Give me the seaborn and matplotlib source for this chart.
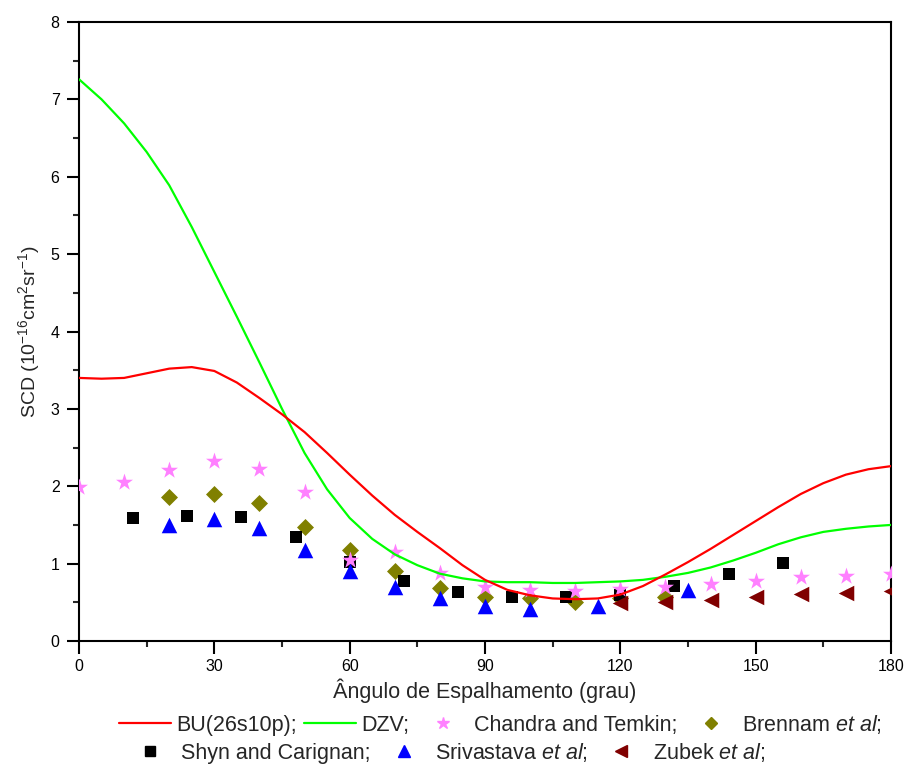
import matplotlib
matplotlib.use("Agg")
import matplotlib.pyplot as plt
from matplotlib.lines import Line2D
from matplotlib.ticker import MultipleLocator
import seaborn as sns
import pandas as pd

# ---------------- data ----------------
theory_angle = list(range(0, 181, 5))
bu_26s10p = [3.40, 3.39, 3.40, 3.46, 3.52, 3.54, 3.49, 3.34, 3.14, 2.93, 2.70, 2.43,
             2.15, 1.88, 1.63, 1.41, 1.20, 0.98, 0.79, 0.66, 0.59, 0.55, 0.54, 0.55,
             0.60, 0.71, 0.86, 1.02, 1.19, 1.37, 1.55, 1.73, 1.90, 2.04, 2.15, 2.22, 2.26]
dzv = [7.26, 7.00, 6.69, 6.32, 5.89, 5.35, 4.77, 4.19, 3.60, 3.00, 2.43, 1.96,
       1.59, 1.32, 1.12, 0.98, 0.87, 0.81, 0.77, 0.76, 0.76, 0.75, 0.75, 0.76,
       0.77, 0.79, 0.83, 0.88, 0.95, 1.04, 1.14, 1.25, 1.34, 1.41, 1.45, 1.48, 1.50]

chandra_x = [0, 10, 20, 30, 40, 50, 60, 70, 80, 90, 100, 110, 120, 130, 140, 150, 160, 170, 180]
chandra_y = [1.99, 2.05, 2.21, 2.32, 2.22, 1.92, 1.05, 1.15, 0.88, 0.70, 0.66, 0.65,
             0.67, 0.70, 0.74, 0.78, 0.83, 0.84, 0.86]
brennam_x = [20, 30, 40, 50, 60, 70, 80, 90, 100, 110, 120, 130]
brennam_y = [1.86, 1.90, 1.78, 1.47, 1.17, 0.91, 0.69, 0.57, 0.55, 0.50, 0.55, 0.57]
shyn_x = [12, 24, 36, 48, 60, 72, 84, 96, 108, 120, 132, 144, 156]
shyn_y = [1.59, 1.61, 1.60, 1.35, 1.02, 0.78, 0.63, 0.57, 0.57, 0.59, 0.71, 0.87, 1.01]
sriv_x = [20, 30, 40, 50, 60, 70, 80, 90, 100, 115, 135]
sriv_y = [1.50, 1.58, 1.46, 1.17, 0.90, 0.70, 0.55, 0.45, 0.42, 0.45, 0.66]
zubek_x = [120, 130, 140, 150, 160, 170, 180]
zubek_y = [0.49, 0.51, 0.53, 0.57, 0.61, 0.62, 0.64]

labels_row1 = ["BU(26s10p);", "DZV;", "Chandra and Temkin;", r"Brennam $\mathit{et\ al}$;"]
labels_row2 = ["Shyn and Carignan;", r"Srivastava $\mathit{et\ al}$;", r"Zubek $\mathit{et\ al}$;"]
xlabel = "Ângulo de Espalhamento (grau)"
ylabel = r"SCD (10$^{-16}$cm$^{2}$sr$^{-1}$)"

# ---------------- style ----------------
sns.set_style("white")
plt.rcParams["font.family"] = ["Liberation Sans", "DejaVu Sans"]
plt.rcParams["mathtext.fontset"] = "custom"
plt.rcParams["mathtext.rm"] = "Liberation Sans"
plt.rcParams["mathtext.it"] = "Liberation Sans:italic"
plt.rcParams["mathtext.bf"] = "Liberation Sans:bold"
plt.rcParams["lines.solid_joinstyle"] = "round"

c_bu, c_dzv = "#ff0000", "#00ff00"
c_ch, c_br, c_sh, c_sr, c_zu = "#ff80ff", "#808000", "#000000", "#0000ff", "#800000"

fig = plt.figure(figsize=(9.07, 7.65), dpi=100)
ax = fig.add_axes([79 / 907, 1 - 641 / 765, (891 - 79) / 907, (641 - 22) / 765])

th = pd.DataFrame({"angle": theory_angle, "bu": bu_26s10p, "dzv": dzv})

sns.scatterplot(x=brennam_x, y=brennam_y, marker="D", s=75, color=c_br, linewidth=0, ax=ax, zorder=3)
sns.scatterplot(x=shyn_x, y=shyn_y, marker="s", s=72, color=c_sh, linewidth=0, ax=ax, zorder=3)
sns.scatterplot(x=sriv_x, y=sriv_y, marker="^", s=125, color=c_sr, linewidth=0, ax=ax, zorder=3)
sns.scatterplot(x=zubek_x, y=zubek_y, marker="<", s=125, color=c_zu, linewidth=0, ax=ax, zorder=3)
sns.scatterplot(x=chandra_x, y=chandra_y, marker="*", s=165, color=c_ch, linewidth=0, ax=ax, zorder=4)
sns.lineplot(data=th, x="angle", y="dzv", color=c_dzv, linewidth=1.6, ax=ax, zorder=5)
sns.lineplot(data=th, x="angle", y="bu", color=c_bu, linewidth=1.6, ax=ax, zorder=6)

ax.set_xlim(0, 180)
ax.set_ylim(0, 8)
ax.xaxis.set_major_locator(MultipleLocator(30))
ax.xaxis.set_minor_locator(MultipleLocator(15))
ax.yaxis.set_major_locator(MultipleLocator(1))
ax.yaxis.set_minor_locator(MultipleLocator(0.5))
ax.tick_params(which="major", direction="out", length=9, width=1.5, labelsize=11.5,
               colors="black", bottom=True, left=True, top=False, right=False)
ax.tick_params(which="minor", direction="out", length=4.5, width=1.5,
               bottom=True, left=True, top=False, right=False)
ax.tick_params(axis="x", which="major", pad=4)
ax.tick_params(axis="y", which="major", pad=5)
for sp in ax.spines.values():
    sp.set_visible(True)
    sp.set_linewidth(1.5)
    sp.set_color("black")

ax.set_xlabel(xlabel, fontsize=15.5, labelpad=3)
ax.set_ylabel(ylabel, fontsize=14, labelpad=6)

# ---------------- legends ----------------
fs = 15.5
h1 = [Line2D([], [], color=c_bu, lw=1.6),
      Line2D([], [], color=c_dzv, lw=1.6),
      Line2D([], [], color=c_ch, marker="*", ms=9, lw=0),
      Line2D([], [], color=c_br, marker="D", ms=6, lw=0)]
h2 = [Line2D([], [], color=c_sh, marker="s", ms=6.5, lw=0),
      Line2D([], [], color=c_sr, marker="^", ms=8, lw=0),
      Line2D([], [], color=c_zu, marker="<", ms=8, lw=0)]
common = dict(frameon=False, fontsize=fs, handlelength=2.4, handletextpad=0.25,
              columnspacing=0.35, borderpad=0, borderaxespad=0)
leg1 = fig.legend(h1, labels_row1, ncol=4, loc="center left",
                  bbox_to_anchor=(119 / 907, 1 - 724 / 765), **common)
leg2 = fig.legend(h2, labels_row2, ncol=3, loc="center left",
                  bbox_to_anchor=(124 / 907, 1 - 752 / 765), **common)

fig.savefig("out.png", dpi=100)
